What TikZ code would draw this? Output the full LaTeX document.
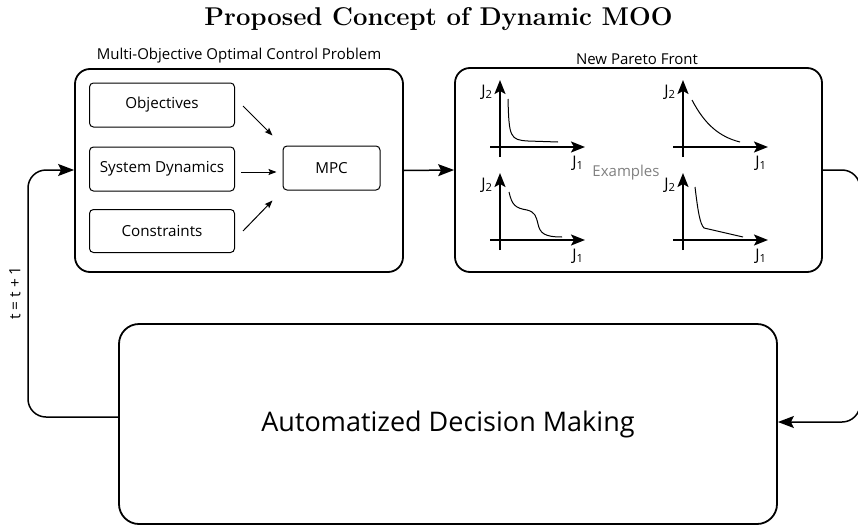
\documentclass[tikz,border=0pt]{standalone}
\usepackage{fontspec}
\newfontfamily\osans{Open Sans}
\usetikzlibrary{arrows.meta,calc}

\tikzset{
  frame/.style={draw, line width=1.8pt, rounded corners=15pt, inner sep=0pt},
  inbox/.style={draw, line width=1pt, rounded corners=4pt, inner sep=0pt,
    minimum width=145pt, minimum height=44pt, font=\osans\fontsize{15.2}{18}\selectfont},
  bigtip/.style={-{Stealth[length=16pt,width=12pt,inset=3pt]}},
  smalltip/.style={-{Stealth[length=8pt,width=6pt,inset=1.5pt]}},
  link/.style={line width=1.5pt, rounded corners=18pt},
  axis/.style={line width=2pt, -{Stealth[length=14pt,width=11pt,inset=3pt]}},
  front/.style={line width=1pt},
  jlab/.style={font=\osans\fontsize{16}{18}\selectfont, inner sep=0pt},
  caption/.style={font=\osans\fontsize{15}{18}\selectfont, inner sep=0pt}
}

% axes of one small J1/J2 plot with its origin at (#1,#2)
\newcommand{\jaxes}[3]{%
  \draw[axis] (#1,#2+10) coordinate (#3b) -- (#1,#2-67) coordinate (#3t);
  \draw[axis] (#1-10,#2) coordinate (#3l) -- (#1+85,#2) coordinate (#3r);
  \node[jlab] (#3y) at (#1-13,#2-55) {J\textsubscript{2}};
  \node[jlab] (#3x) at (#1+78,#2+16) {J\textsubscript{1}};
}

\begin{document}
\begin{tikzpicture}[x=1pt,y=-1pt]
\useasboundingbox (0,0) rectangle (858,527);

% title
\node[font=\fontsize{25.7}{30}\selectfont\bfseries] (title) at (438.5,19) {Proposed Concept of Dynamic MOO};

% multi-objective optimal control problem
\node[frame, minimum width=328pt, minimum height=203pt] (ocp) at (239,170.5) {};
\node[caption] (ocplab) at (239,56) {Multi-Objective Optimal Control Problem};
\node[inbox] (obj) at (162,105) {Objectives};
\node[inbox] (sys) at (162,169) {System Dynamics};
\node[inbox, minimum height=43pt] (con) at (162,231) {Constraints};
\node[inbox, minimum width=97pt] (mpc) at (331.5,168) {MPC};

\draw[smalltip, line width=1pt] ($(obj.east)+(8,1)$) -- ($(mpc.north west)+(-10,-10)$);
\draw[smalltip, line width=1pt] ($(sys.east)+(6,3)$) -- ($(mpc.west)+(-6,4)$);
\draw[smalltip, line width=1pt] ($(con.east)+(8,0)$) -- ($(mpc.south west)+(-10,10)$);

% pareto front examples
\node[frame, minimum width=367pt, minimum height=204pt] (pf) at (638.5,170) {};
\node[caption] (pflab) at (637,59) {New Pareto Front};
\node[font=\osans\fontsize{15}{18}\selectfont, text=black!50, inner sep=0pt] (ex) at (626,173) {Examples};

\jaxes{500}{147}{pa}
\jaxes{683}{147}{pb}
\jaxes{500}{240}{pc}
\jaxes{683}{240}{pd}

\draw[front] (508,99) .. controls (509,137) and (510,140) .. (528,141) -- (558,142);
\draw[front] (692,100) .. controls (705,125) and (720,137) .. (740,142);
\draw[front] (509,192) .. controls (512,205) and (515,208) .. (527,210)
  .. controls (535,212) and (536,216) .. (538,224)
  .. controls (540,233) and (544,237) .. (562,237);
\draw[front] (695,187) .. controls (698,212) and (700,224) .. (704,228) -- (743,237);

% decision making
\node[frame, rounded corners=20pt, minimum width=658pt, minimum height=200pt,
  font=\osans\fontsize{27}{32}\selectfont] (dm) at (448,424) {Automatized Decision Making};

% loop connectors
\draw[link, bigtip] (ocp.east) -- (pf.west);
\coordinate (rt) at (860,170);
\coordinate (rb) at (860,422);
\draw[link, bigtip] (pf.east |- 0,170) -- (rt) -- (rb) -- (dm.east |- rb);
\coordinate (lb) at (28,417);
\coordinate (lt) at (28,170);
\draw[link, bigtip] (dm.west |- lb) -- (lb) -- (lt) -- (ocp.west |- lt);
\node[rotate=90, font=\osans\fontsize{15.5}{18}\selectfont, inner sep=0pt] (tt) at (15,293) {t = t + 1};
\end{tikzpicture}
\end{document}
